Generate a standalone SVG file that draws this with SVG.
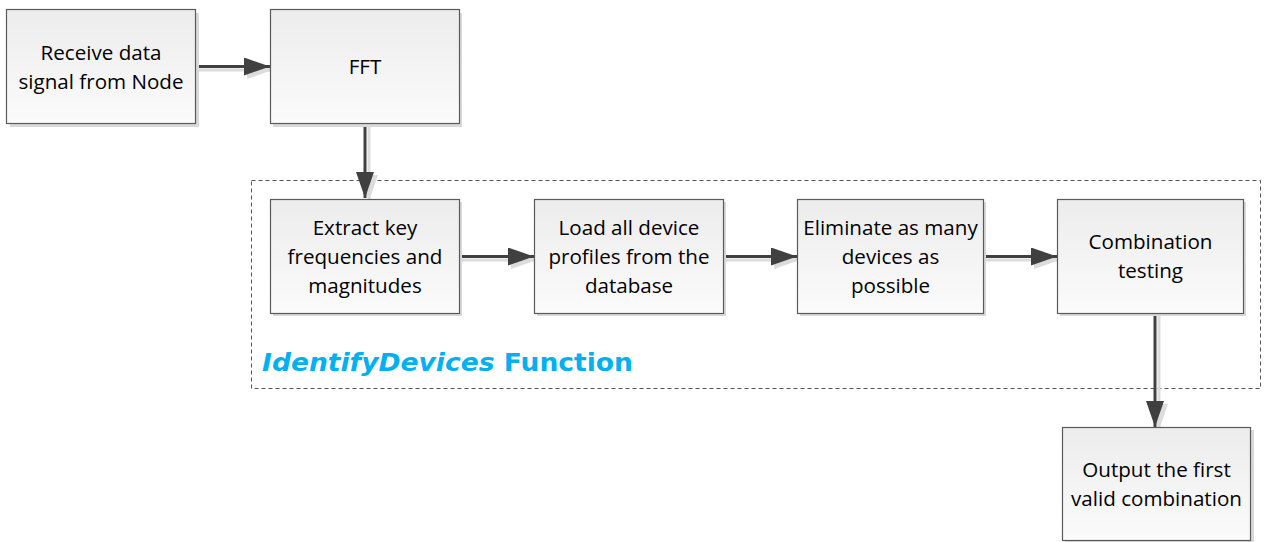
<svg xmlns="http://www.w3.org/2000/svg" width="1271" height="542" viewBox="0 0 1271 542">
<style>
.box{fill:url(#g);stroke:#5a5a5a;stroke-width:1.2}
.sh{fill:#d9d9d9}
.t{font-family:"Open Sans","Liberation Sans",sans-serif;font-size:20.6px;fill:#000;text-anchor:middle}
.c{stroke:#404040;stroke-width:3;fill:none;marker-end:url(#ah)}
.cs{stroke:#dcdcdc;stroke-width:3;fill:none;marker-end:url(#ahs)}
</style>
<defs>
<linearGradient id="g" x1="0" y1="0" x2="0" y2="1">
<stop offset="0" stop-color="#ececec"/>
<stop offset="1" stop-color="#fbfbfb"/>
</linearGradient>
<marker id="ah" markerUnits="userSpaceOnUse" markerWidth="28" markerHeight="20" refX="26" refY="9" orient="auto">
<path d="M0,0 L26,9 L0,18 z" fill="#404040"/>
</marker>
<marker id="ahs" markerUnits="userSpaceOnUse" markerWidth="28" markerHeight="20" refX="26" refY="9" orient="auto">
<path d="M0,0 L26,9 L0,18 z" fill="#dcdcdc"/>
</marker>
</defs>
<rect x="251.5" y="180.5" width="1009" height="208" fill="none" stroke="#555" stroke-width="1" stroke-dasharray="4,3"/>
<text x="262" y="371" font-family="'DejaVu Sans',Verdana,sans-serif" font-size="25" font-weight="bold" fill="#00b0f0" textLength="371" lengthAdjust="spacingAndGlyphs"><tspan font-style="italic">IdentifyDevices</tspan> Function</text>
<g id="connectors">
<path class="cs" d="M196,70 L273,70"/>
<path class="cs" d="M369,124 L369,201"/>
<path class="cs" d="M460,260 L537,260"/>
<path class="cs" d="M724,260 L800,260"/>
<path class="cs" d="M984,260 L1060,260"/>
<path class="cs" d="M1159,314 L1159,430"/>
<path class="c" d="M195,66.5 L270,66.5"/>
<path class="c" d="M365,123 L365,198"/>
<path class="c" d="M459,256.5 L534,256.5"/>
<path class="c" d="M723,256.5 L797,256.5"/>
<path class="c" d="M983,256.5 L1057,256.5"/>
<path class="c" d="M1155,313 L1155,427"/>
</g>
<g id="n1"><rect class="sh" x="10" y="13" width="189" height="114"/><rect class="box" x="6.5" y="9.5" width="189" height="114"/><text class="t" x="101" y="60">Receive data</text><text class="t" x="101" y="89">signal from Node</text></g>
<g id="n2"><rect class="sh" x="273" y="13" width="189" height="114"/><rect class="box" x="270.5" y="9.5" width="189" height="114"/><text class="t" x="365" y="74">FFT</text></g>
<g id="n3"><rect class="sh" x="273" y="202" width="189" height="114"/><rect class="box" x="270.5" y="199.5" width="189" height="114"/><text class="t" x="365" y="235">Extract key</text><text class="t" x="365" y="264">frequencies and</text><text class="t" x="365" y="293">magnitudes</text></g>
<g id="n4"><rect class="sh" x="537" y="202" width="189" height="114"/><rect class="box" x="534.5" y="199.5" width="189" height="114"/><text class="t" x="629" y="235">Load all device</text><text class="t" x="629" y="264">profiles from the</text><text class="t" x="629" y="293">database</text></g>
<g id="n5"><rect class="sh" x="800" y="202" width="186" height="114"/><rect class="box" x="797.5" y="199.5" width="186" height="114"/><text class="t" x="890.5" y="235">Eliminate as many</text><text class="t" x="890.5" y="264">devices as</text><text class="t" x="890.5" y="293">possible</text></g>
<g id="n6"><rect class="sh" x="1060" y="202" width="186" height="114"/><rect class="box" x="1057.5" y="199.5" width="186" height="114"/><text class="t" x="1150.5" y="249">Combination</text><text class="t" x="1150.5" y="278">testing</text></g>
<g id="n7"><rect class="sh" x="1065" y="430" width="189" height="114"/><rect class="box" x="1062.5" y="427.5" width="188" height="113"/><text class="t" x="1156.5" y="477">Output the first</text><text class="t" x="1156.5" y="506">valid combination</text></g>
</svg>
